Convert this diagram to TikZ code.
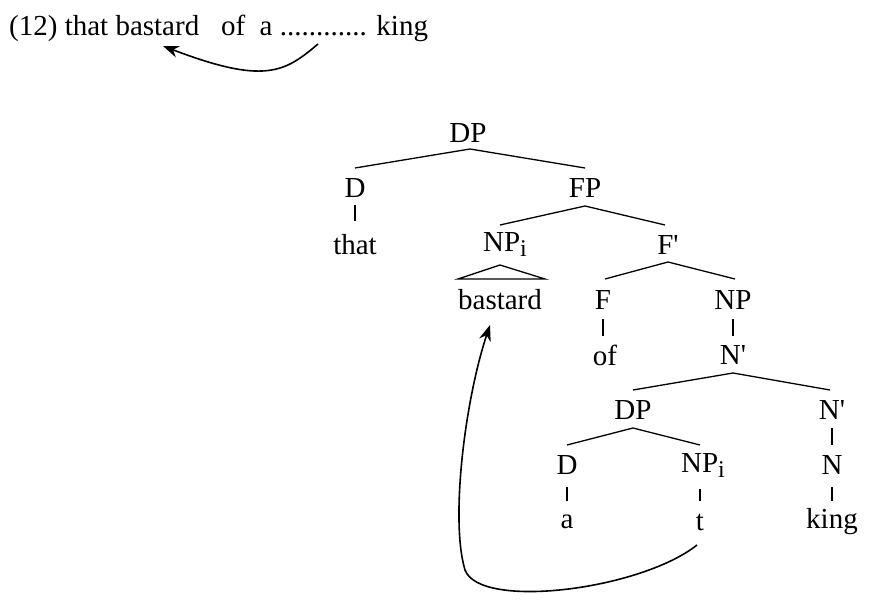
\documentclass[tikz,border=0pt]{standalone}
\usepackage{fontspec}
\usetikzlibrary{arrows.meta}
\setmainfont{Liberation Serif}
\newcommand{\sbi}{\raisebox{-5pt}{\fontsize{24}{26}\selectfont i}}
\newcommand{\pr}{\textquotesingle}
\begin{document}
\begin{tikzpicture}[x=1pt,y=-1pt,
  lab/.style={font=\fontsize{29}{32}\selectfont,inner sep=1pt},
  br/.style={line width=1.3pt},
  mv/.style={line width=1.6pt,-{Stealth[length=16pt,width=12pt]}}]
\useasboundingbox (0,0) rectangle (885,615);
\node[lab,anchor=west] (title) at (8,28) {(12) that bastard\ \ \ of\ \ a ............ king};
\coordinate (dots) at (318,44);
\coordinate (tgt) at (163,46);
\draw[mv] (dots) .. controls (285,72) and (265,85) .. (tgt);
\node[lab] (dp) at (468,133) {DP};
\node[lab] (d1) at (355,188) {D};
\node[lab] (fp) at (585,188) {FP};
\node[lab] (that) at (355,245) {that};
\node[lab] (npi) at (505,245) {NP\sbi};
\node[lab] (f1) at (668,245) {F\pr};
\node[lab] (bas) at (500,300) {bastard};
\node[lab] (f) at (603,300) {F};
\node[lab] (np) at (733,300) {NP};
\node[lab] (of) at (605,355) {of};
\node[lab] (n1) at (733,355) {N\pr};
\node[lab] (dp2) at (633,410) {DP};
\node[lab] (n2) at (832,410) {N\pr};
\node[lab] (d2) at (567,465) {D};
\node[lab] (npi2) at (703,465) {NP\sbi};
\node[lab] (n3) at (832,465) {N};
\node[lab] (a) at (567,522) {a};
\node[lab] (t) at (700,522) {t};
\node[lab] (king) at (832,522) {king};
\coordinate (dpa) at (470,149);
\draw[br] (355,168) -- (dpa) -- (585,168);
\draw[br] (500,225) -- (585,206) -- (665,225);
\draw[br] (355,205) -- (355,221);
\draw[br] (458,279) -- (500,265) -- (545,279) -- cycle;
\draw[br] (605,279) -- (668,262) -- (735,279);
\draw[br] (603,319) -- (603,336);
\draw[br] (733,319) -- (733,336);
\draw[br] (633,390) -- (733,373) -- (830,390);
\draw[br] (567,445) -- (633,428) -- (700,445);
\draw[br] (832,428) -- (832,445);
\draw[br] (567,487) -- (567,501);
\draw[br] (700,489) -- (700,501);
\draw[br] (832,487) -- (832,501);
\coordinate (tr) at (697,545);
\coordinate (bt) at (490,325);
\draw[mv] (tr) .. controls (640,590) and (480,610) .. (465,570) .. controls (450,520) and (465,400) .. (bt);
\end{tikzpicture}
\end{document}
